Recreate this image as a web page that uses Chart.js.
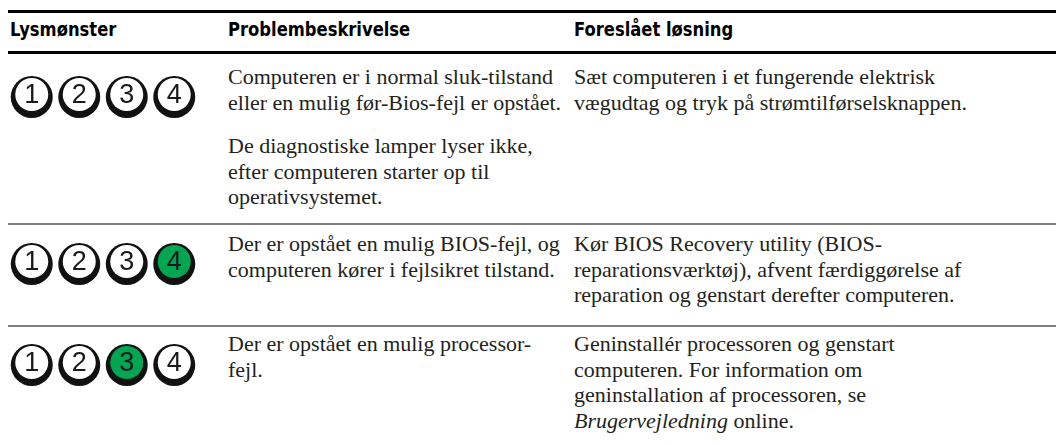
<!DOCTYPE html>
<html>
<head>
<meta charset="utf-8">
<script src="https://cdn.jsdelivr.net/npm/chart.js@4.4.1/dist/chart.umd.min.js"></script>
<style>
  html, body { margin: 0; padding: 0; background: #fff; }
  body { width: 1057px; height: 445px; position: relative; overflow: hidden; }
  .rule { position: absolute; left: 8px; right: 1px; }
  .thick { height: 3px; background: #000; }
  .thin { height: 2px; background: #808080; }
  .hdr { position: absolute; top: 17px; font-family: 'DejaVu Sans Condensed', 'Liberation Sans Narrow', sans-serif; font-stretch: condensed; font-weight: bold; font-size: 20px; line-height: 24px; color: #000; white-space: nowrap; transform-origin: 0 50%; transform: scaleX(0.91); }
  .txt { position: absolute; font-family: 'Liberation Serif', serif; font-size: 22px; line-height: 25.6px; color: #231f20; white-space: nowrap; }
  .txt p { margin: 0; }
  .txt p + p { margin-top: 18px; }
  .led { position: absolute; left: 8px; width: 190px; height: 60px; }
</style>
</head>
<body>
<div class="rule thick" style="top:10px"></div>
<div class="rule thick" style="top:51px"></div>
<div class="rule thin" style="top:223px"></div>
<div class="rule thin" style="top:325px"></div>

<div id="root"></div>

<script>
// ---- data ----
const headers = ['Lysmønster', 'Problembeskrivelse', 'Foreslået løsning'];
const ledNumbers = [1, 2, 3, 4];
const ledStates = [
  [0, 0, 0, 0],
  [0, 0, 0, 1],
  [0, 0, 1, 0]
];
const problems = [
  [['Computeren er i normal sluk-tilstand', 'eller en mulig før-Bios-fejl er opstået.'],
   ['De diagnostiske lamper lyser ikke,', 'efter computeren starter op til', 'operativsystemet.']],
  [['Der er opstået en mulig BIOS-fejl, og', 'computeren kører i fejlsikret tilstand.']],
  [['Der er opstået en mulig processor-', 'fejl.']]
];
const solutions = [
  [['Sæt computeren i et fungerende elektrisk', 'vægudtag og tryk på strømtilførselsknappen.']],
  [['Kør BIOS Recovery utility (BIOS-', 'reparationsværktøj), afvent færdiggørelse af', 'reparation og genstart derefter computeren.']],
  [['Geninstallér processoren og genstart', 'computeren. For information om', 'geninstallation af processoren, se', '<i>Brugervejledning</i> online.']]
];

// ---- layout ----
const colX = [10, 228, 574];
const rowTextTop = [64, 231, 331];
const rowLedCenter = [97, 264, 365];
const GREEN = '#00a651';

const root = document.getElementById('root');
headers.forEach((h, i) => {
  const d = document.createElement('div');
  d.className = 'hdr';
  d.style.left = colX[i] + 'px';
  d.textContent = h;
  root.appendChild(d);
});

function block(paras, x, y) {
  const d = document.createElement('div');
  d.className = 'txt';
  d.style.left = x + 'px';
  d.style.top = y + 'px';
  d.innerHTML = paras.map(p => '<p>' + p.join('<br>') + '</p>').join('');
  root.appendChild(d);
}
problems.forEach((p, r) => block(p, colX[1], rowTextTop[r]));
solutions.forEach((s, r) => block(s, colX[2], rowTextTop[r]));

const ledPlugin = {
  id: 'ledFaces',
  afterDatasetsDraw(chart) {
    const ctx = chart.ctx;
    const meta = chart.getDatasetMeta(0);
    const states = chart.data.datasets[0].states;
    meta.data.forEach((pt, i) => {
      const x = pt.x, y = pt.y;
      ctx.save();
      ctx.beginPath();
      ctx.arc(x, y - 2.5, 16.5, 0, Math.PI * 2);
      ctx.fillStyle = states[i] ? GREEN : '#ffffff';
      ctx.fill();
      ctx.fillStyle = '#1a1a1a';
      ctx.font = '27px "Liberation Sans", Arial, sans-serif';
      ctx.textAlign = 'center';
      ctx.textBaseline = 'middle';
      ctx.fillText(String(ledNumbers[i]), x, y - 1.5);
      ctx.restore();
    });
  }
};

ledStates.forEach((st, r) => {
  const box = document.createElement('div');
  box.className = 'led';
  box.style.top = (rowLedCenter[r] - 30) + 'px';
  const c = document.createElement('canvas');
  box.appendChild(c);
  root.appendChild(box);
  new Chart(c, {
    type: 'scatter',
    data: {
      datasets: [{
        data: ledNumbers.map(n => ({ x: n, y: 0.5 })),
        states: st,
        pointRadius: 21,
        pointHoverRadius: 21,
        backgroundColor: '#111',
        borderWidth: 0,
        clip: false
      }]
    },
    options: {
      responsive: true,
      maintainAspectRatio: false,
      animation: false,
      events: [],
      layout: { padding: 0, autoPadding: false },
      plugins: { legend: { display: false }, tooltip: { enabled: false } },
      scales: {
        x: { type: 'linear', min: 0.5, max: 4.5, display: false },
        y: { type: 'linear', min: 0, max: 1, display: false }
      }
    },
    plugins: [ledPlugin]
  });
});
</script>
</body>
</html>
